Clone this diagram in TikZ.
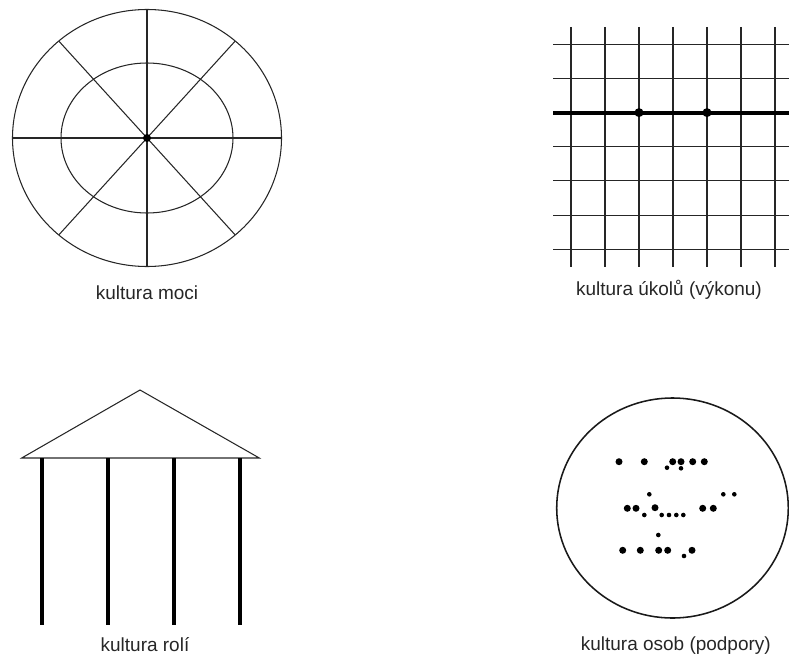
\documentclass[tikz,border=0pt]{standalone}
\usepackage{fontspec}
\setmainfont{Liberation Sans}
\begin{document}
\begin{tikzpicture}[
    x=0.025cm, y=-0.025cm,
    thinline/.style={line width=0.75pt, color=black!85},
    boldline/.style={line width=2.8pt, color=black},
    column/.style={line width=3pt, color=black},
    rimline/.style={line width=1.1pt, color=black!90},
    caption/.style={font=\fontsize{13.5}{16}\selectfont, color=black!85,
                    anchor=base, inner sep=0pt},
  ]
  \useasboundingbox (0,0) rectangle (789,657);

  \coordinate (moci) at (147,138);
  \draw[thinline] (moci) ellipse [x radius=134.5, y radius=128.5];
  \draw[thinline] (moci) ellipse [x radius=86, y radius=75];
  \foreach \a in {0,49,90,131,180,229,270,311}
    \draw[thinline] (moci) -- ++(\a:134.5 and 128.5);
  \fill (moci) circle [radius=4];
  \node[caption] (mocilabel) at (147,299) {kultura moci};

  \foreach \i in {0,...,6}
    \draw[thinline] ({571+34*\i},27) -- ({571+34*\i},267);
  \foreach \j in {0,1,3,4,5,6}
    \draw[thinline] (553,{44.3+34.15*\j}) -- (789,{44.3+34.15*\j});
  \coordinate (taskL) at (553,112.6);
  \coordinate (taskR) at (789,112.6);
  \draw[boldline] (taskL) -- (taskR);
  \foreach \x in {639,707}
    \fill (\x,112.6) circle [radius=4.5];
  \node[caption] (ukolylabel) at (669,295) {kultura úkolů (výkonu)};

  \coordinate (apex) at (140,390);
  \coordinate (eaveL) at (21.7,458);
  \coordinate (eaveR) at (259.3,458);
  \draw[thinline] (eaveL) -- (apex) -- (eaveR) -- cycle;
  \foreach \x in {41.7,107.7,174,240}
    \draw[column] (\x,458) -- (\x,625);
  \node[caption] (rolelabel) at (145,651) {kultura rolí};

  \coordinate (osoby) at (672.5,508);
  \draw[rimline] (osoby) ellipse [x radius=115.8, y radius=110];
  \foreach \x/\y in {619/461.7, 644.3/461.7, 672.7/461.7, 681/461.7, 692.7/461.7, 704.3/461.7,
                     627.3/508.3, 636/508.3, 655/507.7, 702.7/508.3, 713.3/508.3,
                     622.7/550.3, 640.3/550.3, 658.7/550.3, 667.7/550.3, 692/550.3}
    \fill (\x,\y) circle [radius=3.5];
  \foreach \x/\y in {667/467.7, 681/468.3, 649.3/494.3, 723.3/494.3, 734.3/494.3,
                     644.3/515, 661.7/515, 669/515, 676.3/515, 683.3/515,
                     658.3/535, 684/556}
    \fill (\x,\y) circle [radius=2.3];
  \node[caption] (osobylabel) at (675.8,650) {kultura osob (podpory)};
\end{tikzpicture}
\end{document}
